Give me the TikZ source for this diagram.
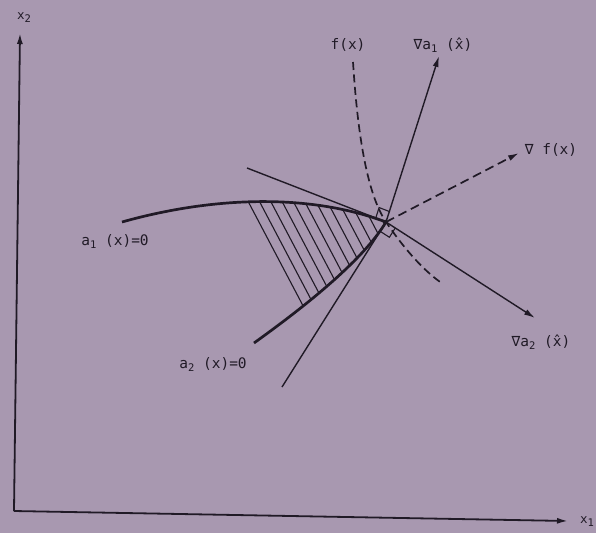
\documentclass[tikz,border=0pt]{standalone}
\usepackage{fontspec}
\setmainfont{DejaVu Sans Mono}
\usetikzlibrary{arrows.meta,calc}
\definecolor{bg}{RGB}{168,152,176}
\definecolor{ink}{RGB}{32,26,38}
\newcommand\mysub[1]{\raisebox{-3pt}{\fontsize{10.5}{12}\selectfont #1}}
\begin{document}
\begin{tikzpicture}[x=1pt,y=-1pt,
  ln/.style={draw=ink,line width=1.4pt},
  axis/.style={draw=ink,line width=1.8pt},
  crv/.style={draw=ink,line width=2.7pt},
  hatchln/.style={draw=ink,line width=1.1pt},
  dsh/.style={draw=ink,line width=1.7pt,dash pattern=on 8pt off 4.5pt},
  tipx/.style={-{Latex[length=11pt,width=6pt]}},
  lab/.style={text=ink,inner sep=0pt,font=\fontsize{14.5}{16}\selectfont},
  smalllab/.style={text=ink,inner sep=0pt,font=\fontsize{12.5}{14}\selectfont}]
\useasboundingbox (0,0) rectangle (596,533);
\fill[bg] (0,0) rectangle (596,533);

% key points
\coordinate (O) at (14,511);
\coordinate (X2) at (20,33);
\coordinate (X1) at (568,521);
\coordinate (P) at (386,222);
\coordinate (G1) at (439,56);
\coordinate (GF) at (519,153);
\coordinate (G2) at (535,318);
\coordinate (T1) at (247,168);
\coordinate (T2) at (282,387);
\coordinate (A1s) at (122,222);
\coordinate (A2s) at (254,343);
\coordinate (Fs) at (353,62);
\coordinate (Fe) at (443,284);

% axes
\draw[axis,tipx] (O) -- (X2);
\draw[axis,tipx] (O) -- (X1);
\node[smalllab] (lx2) at (24,18) {x\mysub{2}};
\node[smalllab,anchor=west] (lx1) at (580,522) {x\mysub{1}};

% hatched feasible region
\begin{scope}
  \clip (A1s) .. controls (200,200) and (300,190) .. (P)
        .. controls (362,262) and (300,310) .. (A2s) -- cycle;
  \clip (220,150) -- (349,395) -- (460,395) -- (460,150) -- cycle;
  \foreach \i in {0,...,14}
    \draw[hatchln] ($(250,205)+(\i*11.3,0)$) ++(-60,-114) -- ++(120,228);
\end{scope}

% constraint curves
\draw[crv] (A1s) .. controls (200,200) and (300,190) .. (P);
\draw[crv] (A2s) .. controls (300,310) and (362,262) .. (P);

% tangent lines
\draw[ln] (T1) -- (P);
\draw[ln] (T2) -- (P);

% objective contour
\draw[dsh] (Fs) .. controls (358,140) and (368,195) .. (P)
           .. controls (405,250) and (425,272) .. (Fe);

% gradients
\draw[ln,tipx] (P) -- (G1);
\draw[ln,tipx] (P) -- (G2);
\draw[dsh,dash pattern=on 9pt off 5pt,tipx] (P) -- (GF);

% right-angle marks
\coordinate (m1) at ($(P)!11pt!(G1)$);
\coordinate (m2) at ($(P)!11pt!(T1)$);
\draw[hatchln] (m1) -- ($(m1)+(m2)-(P)$) -- (m2);
\coordinate (n1) at ($(P)!11pt!(G2)$);
\coordinate (n2) at ($(P)!11pt!(T2)$);
\draw[hatchln] (n1) -- ($(n1)+(n2)-(P)$) -- (n2);

% labels
\node[lab] (lf) at (348,45) {f(x)};
\node[lab] (lg1) at (443,45) {∇a\mysub{1} (x̂)};
\node[lab] (lgf) at (551,150) {∇ f(x)};
\node[lab] (la1) at (115,241) {a\mysub{1} (x)=0};
\node[lab] (la2) at (213,364) {a\mysub{2} (x)=0};
\node[lab] (lg2) at (541,342) {∇a\mysub{2} (x̂)};
\end{tikzpicture}
\end{document}
